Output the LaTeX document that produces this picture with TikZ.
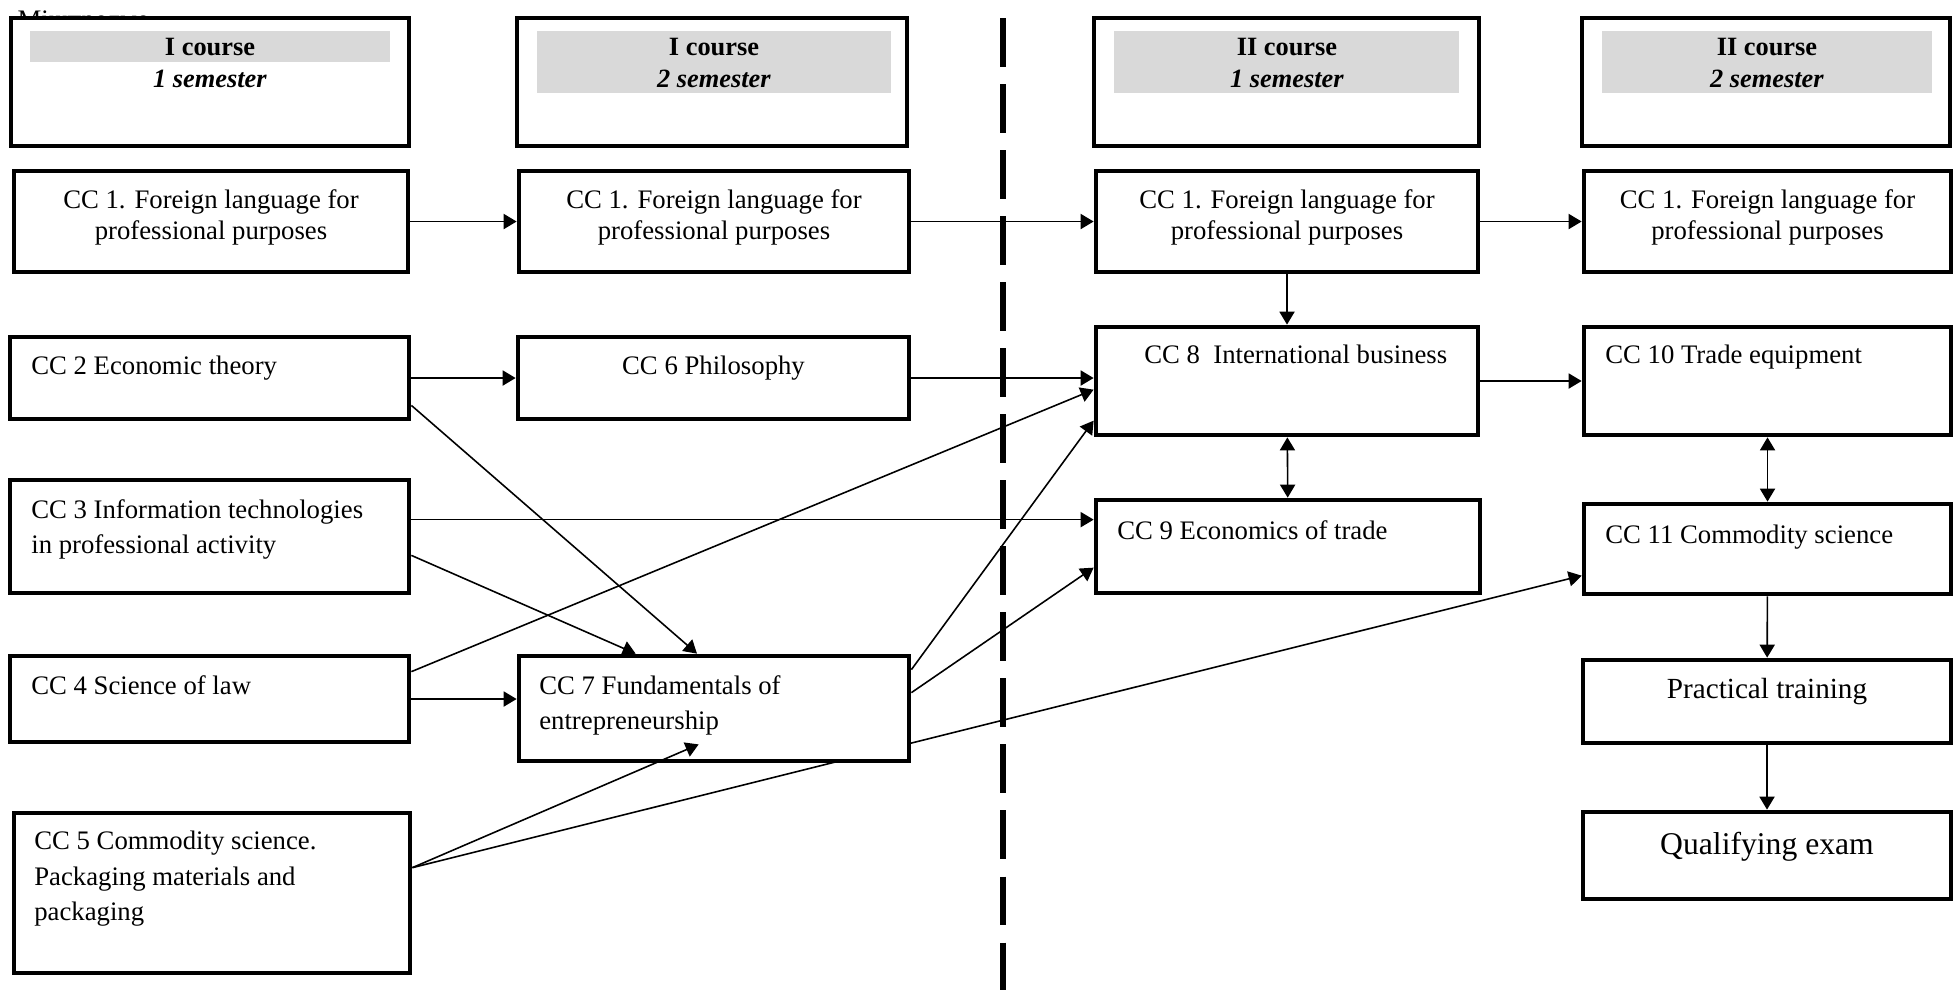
\documentclass[tikz,border=0pt]{standalone}
\usepackage{fontspec}
\setmainfont{Liberation Serif}
\usepackage{tikz}
\usetikzlibrary{arrows.meta, fit, calc}
\pgfdeclarelayer{background}
\pgfsetlayers{background,main}

\begin{document}
\begin{tikzpicture}[x=0.01cm, y=-0.01cm,
    box/.style={draw, line width=1.35pt, fill=white, inner sep=0pt},
    band/.style={fill=black!15, inner sep=0pt},
    txt/.style={inner sep=0pt, font=\fontsize{7.6}{10}\selectfont, align=left},
    ctxt/.style={inner sep=0pt, font=\fontsize{7.6}{8.8}\selectfont, align=center},
    head/.style={inner sep=0pt, font=\fontsize{7.5}{8.9}\selectfont\bfseries, align=center},
    arr/.style={-{Triangle[length=3.7pt, width=4.3pt]}, line width=0.45pt},
    darr/.style={{Triangle[length=3.7pt, width=4.3pt]}-{Triangle[length=3.7pt, width=4.3pt]}, line width=0.45pt}]
    \useasboundingbox (0,0) rectangle (1955,990);

    % Title line, cut off and mostly hidden behind the first header
    \begin{scope}
        \clip (0,0) rectangle (147,30);
        \node[txt, anchor=north west] (title) at (17,10) {Міжпредметні};
    \end{scope}

    % Headers of the four semesters
    \node[box, fit={(11,18) (409,146)}] (h1) {};
    \node[box, fit={(517,18) (907,146)}] (h2) {};
    \node[box, fit={(1094,18) (1479,146)}] (h3) {};
    \node[box, fit={(1582,18) (1950,146)}] (h4) {};
    \node[band, fit={(30,31) (390,62)}] (g1) {};
    \node[band, fit={(537,31) (891,93)}] (g2) {};
    \node[band, fit={(1114,31) (1459,93)}] (g3) {};
    \node[band, fit={(1602,31) (1932,93)}] (g4) {};
    \node[head, anchor=north] (h1-t) at (210,38) {I course\\\textit{1 semester}};
    \node[head, anchor=north] (h2-t) at (714,38) {I course\\\textit{2 semester}};
    \node[head, anchor=north] (h3-t) at (1287,38) {II course\\\textit{1 semester}};
    \node[head, anchor=north] (h4-t) at (1767,38) {II course\\\textit{2 semester}};

    % Foreign language in every semester
    \node[box, fit={(14,171) (408,272)}] (fl1) {};
    \node[box, fit={(519,171) (909,272)}] (fl2) {};
    \node[box, fit={(1096,171) (1478,272)}] (fl3) {};
    \node[box, fit={(1584,171) (1951,272)}] (fl4) {};
    \foreach \n in {fl1,fl2,fl3,fl4}
        \node[ctxt, anchor=north] (\n-t) at ([shift={(0,20)}]\n.north) {CC 1. Foreign language for\\professional purposes};

    % First course
    \node[box, fit={(10,337) (409,419)}] (econ) {};
    \node[box, fit={(10,480) (409,593)}] (info) {};
    \node[box, fit={(10,656) (409,742)}] (law) {};
    \node[box, fit={(14,813) (410,973)}] (comm) {};
    \node[box, fit={(518,337) (909,419)}] (phil) {};
    \node[box, fit={(519,656) (909,761)}] (entre) {};
    \node[txt, anchor=north west] (econ-t) at ([shift={(23,21)}]econ.north west) {CC 2 Economic theory};
    \node[txt, anchor=north west] (info-t) at ([shift={(23,21)}]info.north west) {CC 3 Information technologies\\in professional activity};
    \node[txt, anchor=north west] (law-t) at ([shift={(23,21)}]law.north west) {CC 4 Science of law};
    \node[txt, anchor=north west] (comm-t) at ([shift={(22,20)}]comm.north west) {CC 5 Commodity science.\\Packaging materials and\\packaging};
    \node[ctxt, anchor=north] (phil-t) at ([shift={(0,21)}]phil.north) {CC 6 Philosophy};
    \node[txt, anchor=north west] (entre-t) at ([shift={(22,21)}]entre.north west) {CC 7 Fundamentals of\\entrepreneurship};

    % Second course
    \node[box, fit={(1096,327) (1478,435)}] (intl) {};
    \node[box, fit={(1096,500) (1480,593)}] (trade) {};
    \node[box, fit={(1584,327) (1951,435)}] (equip) {};
    \node[box, fit={(1584,504) (1951,594)}] (sci) {};
    \node[box, fit={(1583,660) (1951,743)}] (practice) {};
    \node[box, fit={(1583,812) (1951,899)}] (exam) {};
    \node[txt, anchor=north west] (intl-t) at ([shift={(50,20)}]intl.north west) {CC 8\ \ International business};
    \node[txt, anchor=north west] (trade-t) at ([shift={(23,22)}]trade.north west) {CC 9 Economics of trade};
    \node[txt, anchor=north west] (equip-t) at ([shift={(23,20)}]equip.north west) {CC 10 Trade equipment};
    \node[txt, anchor=north west] (sci-t) at ([shift={(23,23)}]sci.north west) {CC 11 Commodity science};
    \node[inner sep=0pt, anchor=north, font=\fontsize{8.3}{10}\selectfont] (practice-t) at ([shift={(0,20)}]practice.north) {Practical training};
    \node[inner sep=0pt, anchor=north, font=\fontsize{9}{11}\selectfont] (exam-t) at ([shift={(0,22)}]exam.north) {Qualifying exam};

    % Start points of the connectors
    \coordinate (info-out) at ([shift={(0,42)}]info.north east);
    \coordinate (comm-out) at ([shift={(0,57)}]comm.north east);

    % This one runs under the box of CC 7
    \begin{pgfonlayer}{background}
        \draw[arr] (comm-out) -- ([shift={(0,74)}]sci.north west);
    \end{pgfonlayer}

    % Connectors
    \draw[arr] (fl1) -- (fl2);
    \draw[arr] (fl2) -- (fl3);
    \draw[arr] (fl3) -- (fl4);
    \draw[arr] (fl3) -- (intl);
    \draw[arr] (econ) -- (phil);
    \draw[arr] (phil.east) -- (phil.east -| intl.west);
    \draw[arr] ([shift={(0,-16)}]econ.south east) -- ([shift={(-17,0)}]entre.north);
    \draw[arr] (info-out) -- (info-out -| trade.west);
    \draw[arr] ([shift={(0,-40)}]info.south east) -- ([shift={(119,0)}]entre.north west);
    \draw[arr] ([shift={(0,18)}]law.north east) -- ([shift={(0,65)}]intl.north west);
    \draw[arr] (law.east) -- (law.east -| entre.west);
    \draw[arr] ([shift={(0,16)}]entre.north east) -- ([shift={(0,96)}]intl.north west);
    \draw[arr] ([shift={(0,39)}]entre.north east) -- ([shift={(0,70)}]trade.north west);
    \draw[arr] (comm-out) -- ([shift={(182,-19)}]entre.south west);
    \draw[darr] (intl) -- (trade);
    \draw[arr] (intl) -- (equip);
    \draw[darr] (equip) -- (sci);
    \draw[arr] (sci) -- (practice);
    \draw[arr] (practice) -- (exam);

    % Border between the first and the second course
    \draw[line width=1.7pt, dash pattern=on 0.485cm off 0.175cm] (1003,18) -- (1003,990);
\end{tikzpicture}
\end{document}
